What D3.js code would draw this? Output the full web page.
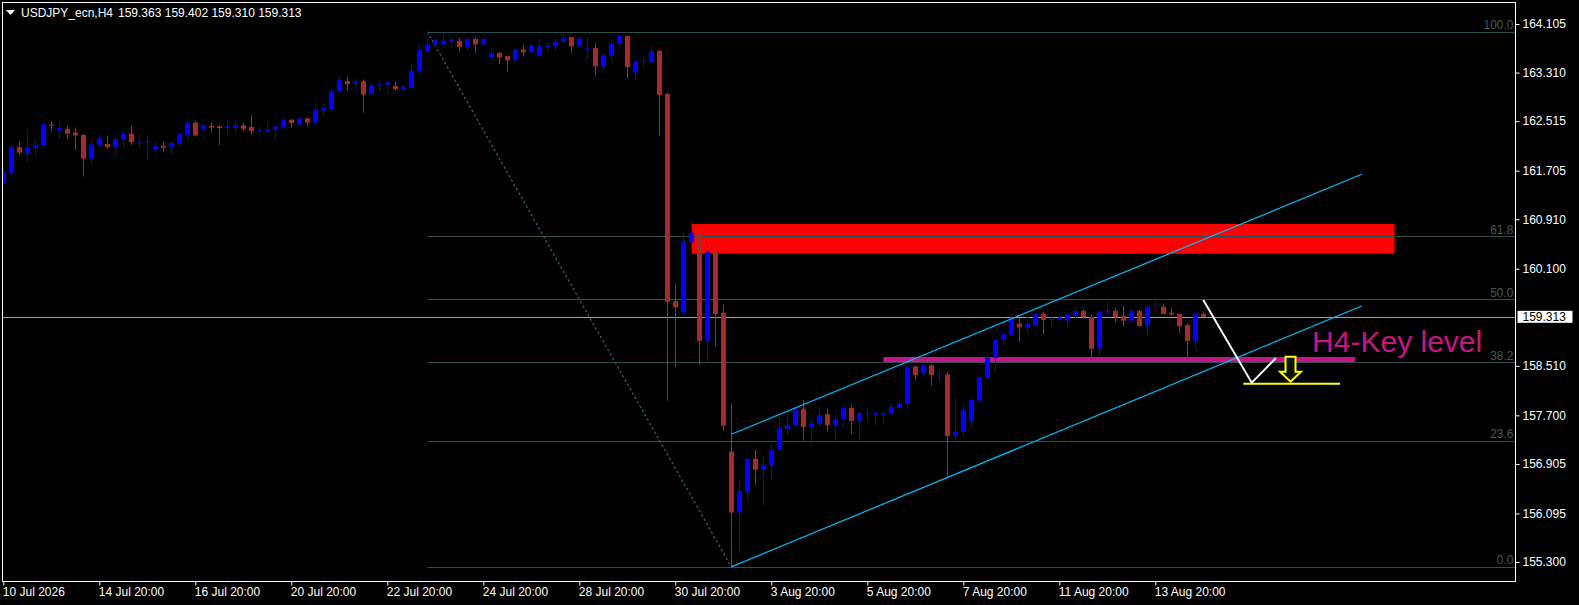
<!DOCTYPE html>
<html>
<head>
<meta charset="utf-8">
<script src="https://cdn.jsdelivr.net/npm/d3@7"></script>
<style>
  body { margin: 0; background: #000; overflow: hidden; }
  text { font-family: "Liberation Sans", Arial, sans-serif; }
</style>
</head>
<body>
<div class="container"></div>
<script>
// USDJPY_ecn H4 candles (bar 0 = 10 Jul 2026)
var openPrices = [
  161.50,161.66,162.09,161.99,162.08,162.12,162.46,162.36,162.39,162.33,
  162.29,161.90,162.12,162.14,162.09,162.22,162.31,162.17,162.17,162.05,
  162.11,162.09,162.15,162.29,162.49,162.38,162.44,162.43,162.40,162.41,
  162.45,162.42,162.34,162.35,162.38,162.41,162.54,162.46,162.56,162.49,
  162.69,162.71,163.00,163.17,163.13,163.17,162.96,163.10,163.11,163.09,
  163.04,163.06,163.33,163.66,163.77,163.77,163.81,163.83,163.73,163.86,
  163.77,163.56,163.63,163.58,163.51,163.69,163.64,163.58,163.73,163.74,
  163.81,163.89,163.74,163.70,163.71,163.41,163.58,163.79,163.91,163.31,
  163.49,163.48,163.67,162.96,159.57,159.38,160.53,160.68,158.92,160.38,
  159.38,157.11,156.11,156.44,156.99,156.81,156.88,157.15,157.48,157.53,
  157.81,157.51,157.56,157.72,157.54,157.64,157.82,157.61,157.73,157.70,
  157.71,157.73,157.82,157.89,158.50,158.39,158.52,158.36,158.37,157.36,
  157.43,157.61,157.94,158.31,158.64,158.94,159.02,159.20,159.14,159.17,
  159.36,159.27,159.26,159.25,159.33,159.41,159.31,158.79,159.38,159.41,
  159.33,159.25,159.41,159.16,159.49,159.48,159.38,159.36,159.18,158.91,
  159.363
];
var highPrices = [
  161.77,162.12,162.18,162.38,162.21,162.47,162.51,162.49,162.44,162.41,
  162.30,162.21,162.29,162.28,162.25,162.36,162.44,162.29,162.29,162.18,
  162.18,162.18,162.31,162.56,162.52,162.45,162.50,162.45,162.54,162.54,
  162.49,162.61,162.42,162.48,162.44,162.60,162.54,162.56,162.56,162.81,
  162.81,163.04,163.26,163.24,163.22,163.20,163.14,163.16,163.19,163.16,
  163.11,163.45,163.76,163.98,163.88,163.94,163.89,163.87,163.88,163.89,
  163.87,163.70,163.65,163.58,163.70,163.77,163.80,163.86,163.79,163.86,
  163.96,163.89,163.89,163.89,163.79,163.63,163.82,163.91,163.91,163.53,
  163.56,163.74,163.67,162.98,159.85,160.69,160.89,160.74,160.46,160.53,
  159.51,157.89,156.65,156.99,157.13,157.04,157.23,157.68,157.76,157.83,
  157.95,157.64,157.84,157.81,157.71,157.87,157.87,157.76,157.82,157.76,
  157.76,157.90,157.94,158.55,158.50,158.55,158.54,158.47,158.41,157.99,
  157.87,157.98,158.34,158.68,158.94,159.06,159.36,159.29,159.31,159.38,
  159.40,159.33,159.37,159.37,159.47,159.44,159.35,159.41,159.56,159.46,
  159.49,159.44,159.43,159.51,159.58,159.53,159.46,159.36,159.21,159.38,
  159.402
];
var lowPrices = [
  161.47,161.65,161.95,161.84,161.96,162.06,162.35,162.23,162.23,162.05,
  161.61,161.81,162.11,162.06,161.95,162.09,162.12,162.07,161.88,162.02,
  162.01,161.96,162.09,162.22,162.28,162.32,162.33,162.12,162.30,162.32,
  162.35,162.29,162.29,162.31,162.20,162.38,162.41,162.44,162.43,162.45,
  162.60,162.71,162.96,163.01,163.06,162.65,162.93,163.01,163.09,163.01,
  162.98,163.06,163.28,163.64,163.72,163.72,163.72,163.65,163.67,163.63,
  163.77,163.49,163.45,163.32,163.48,163.58,163.63,163.58,163.66,163.66,
  163.80,163.63,163.71,163.51,163.26,163.35,163.49,163.73,163.22,163.18,
  163.40,163.46,162.28,157.94,158.49,159.37,160.34,158.52,158.58,158.83,
  157.45,155.22,155.43,156.30,156.56,156.22,156.65,157.11,157.38,157.48,
  157.29,157.20,157.51,157.43,157.29,157.51,157.39,157.29,157.61,157.54,
  157.57,157.70,157.81,157.81,158.27,158.36,158.19,158.26,156.68,157.27,
  157.35,157.50,157.91,158.27,158.41,158.84,159.01,158.91,159.05,159.14,
  159.03,159.15,159.25,159.15,159.28,159.28,158.58,158.67,159.35,159.23,
  159.16,159.21,159.16,159.02,159.44,159.35,159.33,159.05,158.58,158.79,
  159.310
];
var closePrices = [
  161.69,162.09,162.00,162.08,162.13,162.47,162.44,162.40,162.31,162.28,
  161.90,162.13,162.24,162.09,162.22,162.31,162.17,162.18,162.19,162.11,
  162.08,162.16,162.31,162.49,162.28,162.45,162.41,162.40,162.43,162.45,
  162.39,162.35,162.36,162.38,162.43,162.54,162.48,162.56,162.49,162.71,
  162.74,163.01,163.19,163.12,163.17,162.95,163.10,163.12,163.15,163.04,
  163.08,163.34,163.68,163.77,163.84,163.83,163.85,163.73,163.86,163.77,
  163.86,163.63,163.56,163.51,163.69,163.64,163.76,163.74,163.76,163.82,
  163.87,163.74,163.87,163.71,163.41,163.59,163.79,163.91,163.40,163.49,
  163.50,163.66,162.94,159.56,159.47,160.55,160.69,158.92,160.38,159.36,
  157.53,156.11,156.46,156.99,156.81,156.89,157.13,157.50,157.54,157.81,
  157.51,157.57,157.71,157.54,157.64,157.82,157.61,157.74,157.74,157.74,
  157.74,157.84,157.90,158.50,158.36,158.52,158.36,158.37,157.36,157.44,
  157.79,157.95,158.32,158.65,158.94,159.03,159.29,159.14,159.20,159.36,
  159.26,159.28,159.30,159.35,159.41,159.31,158.79,159.40,159.41,159.31,
  159.25,159.41,159.16,159.48,159.50,159.36,159.35,159.16,158.92,159.36,
  159.313
];

var symbolName = 'USDJPY_ecn,H4';
var lastPrice = 159.313;

var priceTicks = [164.105, 163.310, 162.515, 161.705, 160.910, 160.100,
                  158.510, 157.700, 156.905, 156.095, 155.300];
var dateLabels = ['10 Jul 2026', '14 Jul 20:00', '16 Jul 20:00', '20 Jul 20:00',
                  '22 Jul 20:00', '24 Jul 20:00', '28 Jul 20:00', '30 Jul 20:00',
                  '3 Aug 20:00', '5 Aug 20:00', '7 Aug 20:00', '11 Aug 20:00', '13 Aug 20:00'];
var dateLabelBars = [0, 12, 24, 36, 48, 60, 72, 84, 96, 108, 120, 132, 144];

// fibonacci retracement from the 22 Jul high to the 31 Jul low
var fibLevels = [0, 23.6, 38.2, 50, 61.8, 100];
var fibHigh = 163.98, fibLow = 155.22;
var fibHighBar = 53, fibLowBar = 91;

// drawn objects: [bar, price]
var supplyZone = { bars: [86.05, 173.9], prices: [160.346, 160.832] };
var keyLevel = { bars: [110, 169], price: 158.614, label: 'H4-Key level', labelBar: 163.6, labelPrice: 158.742 };
var channelLower = [[91, 155.22], [169.8, 159.49]];
var channelUpper = [[91, 157.39], [169.8, 161.645]];
var projectionPath = [[150, 159.588], [156.05, 158.234], [159.05, 158.634]];
var targetLine = { bars: [155, 167.1], price: 158.218 };
var downArrow = { bar: 160.9, price: 158.66 };

const WIDTH = 1579;
const HEIGHT = 605;
const LEFT = 2.5, TOP = 2.5, RIGHT = 1515.5, BOTTOM = 581.5;
const BULL = '#0000ff', BEAR = '#a52a2a', FIB = '#2f4f4f';

var _svg, _xScale, _yScale;

var translate = function (x, y) {
  return "translate(" + x + "," + y + ")";
};

var pt = function (d) {
  return [_xScale(d[0]), _yScale(d[1])];
};

var createChart = function () {
  _svg = d3.select('.container').append('svg')
    .attr('width', WIDTH)
    .attr('height', HEIGHT)
    .style('display', 'block')
    .style('background', '#000');

  _xScale = d3.scaleLinear().domain([0, 189]).range([3.3, 3.3 + 8 * 189]);
  _yScale = d3.scaleLinear().domain([155.300, 164.105]).range([562, 24]);

  _svg.append('clipPath').attr('id', 'plot')
    .append('rect')
    .attr('x', LEFT).attr('y', TOP)
    .attr('width', RIGHT - LEFT).attr('height', BOTTOM - TOP);

  // right price axis
  var yAxis = d3.axisRight(_yScale)
    .tickValues(priceTicks)
    .tickFormat(d3.format('.3f'))
    .tickSize(4)
    .tickPadding(3);
  var ya = _svg.append('g')
    .attr('transform', translate(RIGHT, 0))
    .call(yAxis);
  ya.select('.domain').remove();
  ya.selectAll('line').attr('stroke', '#fff');
  ya.selectAll('text').attr('fill', '#fff').style('font-size', '12px')
    .style('font-family', '"Liberation Sans", Arial, sans-serif');

  // bottom time axis
  var xAxis = d3.axisBottom(_xScale)
    .tickValues(dateLabelBars)
    .tickFormat(function (d, i) { return dateLabels[i]; })
    .tickSize(4)
    .tickPadding(3);
  var xa = _svg.append('g')
    .attr('transform', translate(0, BOTTOM))
    .call(xAxis);
  xa.select('.domain').remove();
  xa.selectAll('line').attr('stroke', '#fff');
  xa.selectAll('text').attr('fill', '#fff').attr('text-anchor', 'start')
    .attr('dx', -1).attr('dy', '0.66em')
    .style('font-size', '12px')
    .style('font-family', '"Liberation Sans", Arial, sans-serif');
};

var drawObjects = function () {
  var g = _svg.append('g').attr('clip-path', 'url(#plot)');

  g.append('rect')
    .attr('x', _xScale(supplyZone.bars[0]))
    .attr('y', _yScale(supplyZone.prices[1]))
    .attr('width', _xScale(supplyZone.bars[1]) - _xScale(supplyZone.bars[0]))
    .attr('height', _yScale(supplyZone.prices[0]) - _yScale(supplyZone.prices[1]))
    .attr('fill', '#ff0000');

  // fibo levels
  var fibPrice = function (lv) { return fibLow + (fibHigh - fibLow) * lv / 100; };
  g.selectAll('.fib').data(fibLevels).enter().append('line')
    .attr('x1', _xScale(fibHighBar)).attr('x2', RIGHT)
    .attr('y1', function (d) { return Math.round(_yScale(fibPrice(d))) + 0.5; })
    .attr('y2', function (d) { return Math.round(_yScale(fibPrice(d))) + 0.5; })
    .attr('stroke', FIB);
  g.selectAll('.fibText').data(fibLevels).enter().append('text')
    .attr('x', RIGHT - 2)
    .attr('y', function (d) { return _yScale(fibPrice(d)) - 2.5; })
    .attr('text-anchor', 'end')
    .attr('fill', '#3a5e5e')
    .style('font-size', '12px')
    .text(function (d) { return d.toFixed(1); });
  g.append('line')
    .attr('x1', _xScale(fibHighBar)).attr('y1', _yScale(fibHigh))
    .attr('x2', _xScale(fibLowBar)).attr('y2', _yScale(fibLow))
    .attr('stroke', '#3b6464').attr('stroke-width', 1.2)
    .attr('stroke-dasharray', '2.5,2.5');

  // current price line
  g.append('line')
    .attr('x1', LEFT).attr('x2', RIGHT)
    .attr('y1', Math.round(_yScale(lastPrice)) + 0.5)
    .attr('y2', Math.round(_yScale(lastPrice)) + 0.5)
    .attr('stroke', '#a0a0a0');

  // key level
  g.append('line')
    .attr('x1', _xScale(keyLevel.bars[0])).attr('x2', _xScale(keyLevel.bars[1]))
    .attr('y1', _yScale(keyLevel.price)).attr('y2', _yScale(keyLevel.price))
    .attr('stroke', '#c71585').attr('stroke-width', 5);

  return g;
};

var drawCandles = function (g) {
  var bars = d3.range(openPrices.length);
  var cg = g.append('g');
  cg.selectAll('.wick').data(bars).enter().append('line')
    .attr('x1', function (i) { return Math.round(_xScale(i)) + 0.5; })
    .attr('x2', function (i) { return Math.round(_xScale(i)) + 0.5; })
    .attr('y1', function (i) { return _yScale(highPrices[i]); })
    .attr('y2', function (i) { return _yScale(lowPrices[i]); })
    .attr('stroke', function (i) { return closePrices[i] >= openPrices[i] ? BULL : BEAR; });
  cg.selectAll('.body').data(bars).enter().append('rect')
    .attr('x', function (i) { return Math.round(_xScale(i)) - 2; })
    .attr('width', 5)
    .attr('y', function (i) { return _yScale(Math.max(openPrices[i], closePrices[i])); })
    .attr('height', function (i) {
      return Math.max(1, Math.abs(_yScale(openPrices[i]) - _yScale(closePrices[i])));
    })
    .attr('fill', function (i) { return closePrices[i] >= openPrices[i] ? BULL : BEAR; });
};

var drawAnnotations = function (g) {
  var line = d3.line().x(function (d) { return pt(d)[0]; }).y(function (d) { return pt(d)[1]; });

  [channelLower, channelUpper].forEach(function (c) {
    g.append('path').attr('d', line(c))
      .attr('fill', 'none').attr('stroke', '#00bfff').attr('stroke-width', 1.2);
  });

  g.append('path').attr('d', line(projectionPath))
    .attr('fill', 'none').attr('stroke', '#fff').attr('stroke-width', 2);

  g.append('line')
    .attr('x1', _xScale(targetLine.bars[0])).attr('x2', _xScale(targetLine.bars[1]))
    .attr('y1', _yScale(targetLine.price)).attr('y2', _yScale(targetLine.price))
    .attr('stroke', '#ffff00').attr('stroke-width', 2);

  var ax = _xScale(downArrow.bar), ay = _yScale(downArrow.price);
  var arrow = d3.path();
  arrow.moveTo(ax - 5, ay);
  arrow.lineTo(ax + 5, ay);
  arrow.lineTo(ax + 5, ay + 15);
  arrow.lineTo(ax + 10.5, ay + 15);
  arrow.lineTo(ax, ay + 25);
  arrow.lineTo(ax - 10.5, ay + 15);
  arrow.lineTo(ax - 5, ay + 15);
  arrow.closePath();
  g.append('path').attr('d', arrow.toString())
    .attr('fill', '#0a1400').attr('stroke', '#ffff00').attr('stroke-width', 2);

  g.append('text')
    .attr('x', _xScale(keyLevel.labelBar))
    .attr('y', _yScale(keyLevel.labelPrice))
    .attr('fill', '#c71585')
    .style('font-size', '30px')
    .text(keyLevel.label);
};

var drawFrame = function () {
  _svg.append('rect')
    .attr('x', LEFT).attr('y', TOP)
    .attr('width', RIGHT - LEFT).attr('height', BOTTOM - TOP)
    .attr('fill', 'none').attr('stroke', '#fff');

  // last price tag
  var ly = _yScale(lastPrice);
  _svg.append('rect')
    .attr('x', RIGHT + 2).attr('y', ly - 6)
    .attr('width', 55).attr('height', 12)
    .attr('fill', '#fff');
  _svg.append('text')
    .attr('x', RIGHT + 7).attr('y', ly)
    .attr('dy', '0.35em')
    .attr('fill', '#000')
    .style('font-size', '12px')
    .text(d3.format('.3f')(lastPrice));

  // header
  _svg.append('path').attr('d', 'M6,10L15,10L10.5,15Z').attr('fill', '#fff');
  _svg.append('text').attr('x', 21).attr('y', 17)
    .attr('fill', '#fff').style('font-size', '12px')
    .text(symbolName);
  var last = openPrices.length - 1;
  _svg.append('text').attr('x', 118).attr('y', 17)
    .attr('fill', '#fff').style('font-size', '12px')
    .text([openPrices[last], highPrices[last], lowPrices[last], closePrices[last]]
      .map(d3.format('.3f')).join(' '));
};

var onload = function () {
  createChart();
  var g = drawObjects();
  drawCandles(g);
  drawAnnotations(g);
  drawFrame();
};

window.onload = onload;
</script>
</body>
</html>
